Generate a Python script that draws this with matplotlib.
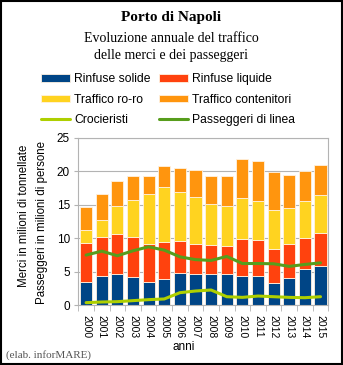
import numpy as np
import matplotlib.pyplot as plt
from matplotlib.patches import Rectangle

# traffico annuale del porto di Napoli
anni = ["2000", "2001", "2002", "2003", "2004", "2005", "2006", "2007",
        "2008", "2009", "2010", "2011", "2012", "2013", "2014", "2015"]
rinfuse_solide = [3.48, 4.37, 4.67, 4.13, 3.48, 3.88, 4.82, 4.62,
                  4.62, 4.62, 4.37, 4.32, 3.23, 4.03, 5.32, 5.86]
rinfuse_liquide = [5.76, 5.82, 5.97, 5.96, 5.67, 5.56, 4.72, 4.46,
                   4.28, 4.23, 5.52, 5.42, 5.17, 5.07, 4.62, 4.83]
ro_ro = [2.04, 2.58, 4.12, 5.67, 7.45, 8.20, 7.41, 7.13,
         6.16, 5.96, 6.06, 5.87, 5.77, 5.46, 5.57, 5.71]
contenitori = [3.38, 3.88, 3.78, 3.57, 2.73, 3.09, 3.53, 3.98,
               4.27, 4.52, 5.87, 5.86, 5.76, 4.92, 4.52, 4.52]
crocieristi = [0.35, 0.45, 0.50, 0.65, 0.80, 0.90, 1.84, 2.09,
               2.24, 1.24, 1.14, 1.34, 1.24, 1.14, 1.09, 1.24]
passeggeri_linea = [7.46, 8.05, 7.36, 8.10, 8.70, 8.20, 7.20, 6.78,
                    6.66, 7.26, 6.20, 6.20, 6.16, 5.77, 6.06, 6.30]

W, H = 343, 365
fig = plt.figure(figsize=(W / 100, H / 100), dpi=100)
fig.patch.set_facecolor("white")

sans = "Liberation Sans"
serif = "Liberation Serif"
grid_col = "#b3b3b3"

ax = fig.add_axes([78.3 / W, 1 - 305 / H, 250 / W, (305 - 137.7) / H])
x = np.arange(len(anni))
bw = 0.77
edge = dict(edgecolor="#fff2e0", linewidth=0.6)

bottom = np.zeros(len(anni))
bars = []
for vals, col, lab in [(rinfuse_solide, "#004586", "Rinfuse solide"),
                       (rinfuse_liquide, "#ff420e", "Rinfuse liquide"),
                       (ro_ro, "#ffd320", "Traffico ro-ro"),
                       (contenitori, "#ff950e", "Traffico contenitori")]:
    b = ax.bar(x, vals, bw, bottom=bottom, color=col, label=lab, zorder=2, **edge)
    bars.append(b)
    bottom += np.array(vals)

l_croc, = ax.plot(x, crocieristi, color="#aecf00", lw=2.2, zorder=3,
                  label="Crocieristi", solid_capstyle="round")
l_pass, = ax.plot(x, passeggeri_linea, color="#579d1c", lw=2.2, zorder=3,
                  label="Passeggeri di linea", solid_capstyle="round")

ax.set_xlim(-0.5, len(anni) - 0.5)
ax.set_ylim(0, 25)
ax.set_yticks(np.arange(0, 26, 5))
ax.yaxis.grid(True, color=grid_col, lw=0.8, zorder=0)
ax.set_axisbelow(True)

ax.set_xticks(x)
ax.set_xticklabels(anni, rotation=270, fontsize=7.5, family=sans)
ax.set_xticks(np.arange(-0.5, len(anni), 1), minor=True)
ax.tick_params(axis="x", which="major", length=0, pad=7)
ax.tick_params(axis="x", which="minor", length=4, color=grid_col, direction="out")
ax.tick_params(axis="y", length=3, color=grid_col, pad=3, labelsize=8.5)
for t in ax.get_yticklabels():
    t.set_family(sans)
for s in ax.spines.values():
    s.set_color(grid_col)
    s.set_linewidth(0.8)

# titoli
fig.text(171 / W, 1 - 18 / H, "Porto di Napoli", ha="center", va="center",
         family=serif, fontweight="bold", fontsize=11)
fig.text(171 / W, 1 - 38 / H, "Evoluzione annuale del traffico", ha="center",
         va="center", family=serif, fontsize=10)
fig.text(171 / W, 1 - 55 / H, "delle merci e dei passeggeri", ha="center",
         va="center", family=serif, fontsize=10)

# legenda su due colonne, lette per righe
handles = [bars[0], bars[2], l_croc, bars[1], bars[3], l_pass]
labels = [h.get_label() for h in handles]
fig.legend(handles, labels, ncol=2, loc="upper left",
           bbox_to_anchor=(41 / W, 1 - 73 / H), frameon=False,
           prop=dict(family=sans, size=8.7), handlelength=2.4,
           handleheight=0.6, handletextpad=0.35, columnspacing=0.7,
           labelspacing=0.72, borderpad=0, borderaxespad=0)

fig.text(24.5 / W, 1 - 216 / H, "Merci in milioni di tonnellate", rotation=90,
         ha="center", va="center", family=sans, fontsize=8.3)
fig.text(42.5 / W, 1 - 223 / H, "Passeggeri in milioni di persone", rotation=90,
         ha="center", va="center", family=sans, fontsize=8.3)
fig.text(183.5 / W, 1 - 347.5 / H, "anni", ha="center", va="center",
         family=sans, fontsize=8.5)
fig.text(6 / W, 1 - 355 / H, "(elab. inforMARE)", ha="left", va="center",
         family=serif, fontsize=8, color="#555555")

# cornice
fig.add_artist(Rectangle((0.002, 0.002), 0.995, 0.995, transform=fig.transFigure,
                         fill=False, edgecolor="black", lw=1.5))

fig.savefig("out.png", dpi=100)
